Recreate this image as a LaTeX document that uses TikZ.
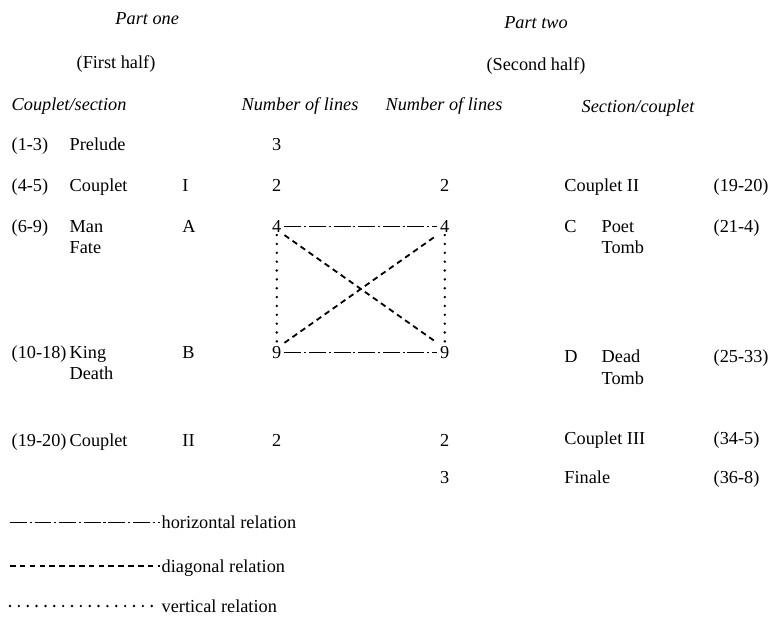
\documentclass[tikz,border=0pt]{standalone}
\usepackage{fontspec}
\setmainfont{Liberation Serif}
\usepackage{tikz}

\tikzset{
  txt/.style={anchor=base west, inner sep=1pt, font=\fontsize{13}{15.5}\selectfont},
  twoline/.style={anchor=north west, align=left, inner sep=1pt, font=\fontsize{13}{15.5}\selectfont},
  num/.style={anchor=base, inner sep=2pt, font=\fontsize{13}{15.5}\selectfont},
  head/.style={anchor=base, inner sep=1pt, font=\fontsize{13}{15.5}\selectfont\itshape},
  horizrel/.style={line width=0.5pt, dash pattern=on 12pt off 2pt on 1.5pt off 2pt},
  diagrel/.style={line width=1.3pt, dash pattern=on 4pt off 3pt},
  vertrel/.style={line width=1.9pt, line cap=round, dash pattern=on 0pt off 6.3pt}
}

\begin{document}
\begin{tikzpicture}
  \useasboundingbox (0,0) rectangle (19.4,-15.55);

  % headings
  \node[head] (p1) at (3.68,-0.6) {Part one};
  \node[num] (h1) at (2.9,-1.7) {(First half)};
  \node[head] (p2) at (13.4,-0.7) {Part two};
  \node[num] (h2) at (13.4,-1.75) {(Second half)};
  \node[head, anchor=base west] (cs) at (0.25,-2.75) {Couplet/section};
  \node[head] (nl1) at (7.5,-2.75) {Number of lines};
  \node[head] (nl2) at (11.1,-2.75) {Number of lines};
  \node[head] (sc) at (15.95,-2.8) {Section/couplet};

  % part one
  \node[txt] (r1) at (0.25,-3.75) {(1-3)};
  \node[txt] (s1) at (1.7,-3.75) {Prelude};
  \node[num] (n1) at (6.92,-3.75) {3};
  \node[txt] (r2) at (0.25,-4.78) {(4-5)};
  \node[txt] (s2) at (1.7,-4.78) {Couplet};
  \node[txt] (c2) at (4.52,-4.78) {I};
  \node[num] (n2) at (6.92,-4.78) {2};
  \node[txt] (r3) at (0.25,-5.8) {(6-9)};
  \node[twoline] (s3) at (1.7,-5.46) {Man\\Fate};
  \node[txt] (c3) at (4.52,-5.8) {A};
  \node[num] (nlA) at (6.92,-5.8) {4};
  \node[txt] (r4) at (0.25,-8.95) {(10-18)};
  \node[twoline] (s4) at (1.7,-8.61) {King\\Death};
  \node[txt] (c4) at (4.52,-8.95) {B};
  \node[num] (nlB) at (6.92,-8.95) {9};
  \node[txt] (r5) at (0.25,-11.15) {(19-20)};
  \node[txt] (s5) at (1.7,-11.15) {Couplet};
  \node[txt] (c5) at (4.52,-11.15) {II};
  \node[num] (n5) at (6.92,-11.15) {2};

  % part two
  \node[num] (m2) at (11.12,-4.78) {2};
  \node[txt] (t2) at (14.07,-4.78) {Couplet II};
  \node[txt] (q2) at (17.8,-4.78) {(19-20)};
  \node[num] (nrA) at (11.12,-5.8) {4};
  \node[txt] (d3) at (14.07,-5.8) {C};
  \node[twoline] (t3) at (15.0,-5.46) {Poet\\Tomb};
  \node[txt] (q3) at (17.8,-5.8) {(21-4)};
  \node[num] (nrB) at (11.12,-8.95) {9};
  \node[txt] (d4) at (14.07,-9.05) {D};
  \node[twoline] (t4) at (15.0,-8.71) {Dead\\Tomb};
  \node[txt] (q4) at (17.8,-9.05) {(25-33)};
  \node[num] (m5) at (11.12,-11.15) {2};
  \node[txt] (t5) at (14.07,-11.1) {Couplet III};
  \node[txt] (q5) at (17.8,-11.1) {(34-5)};
  \node[num] (m6) at (11.12,-12.08) {3};
  \node[txt] (t6) at (14.07,-12.08) {Finale};
  \node[txt] (q6) at (17.8,-12.08) {(36-8)};

  % relations
  \draw[horizrel] (nlA.east) -- (nrA.west);
  \draw[horizrel] (nlB.east) -- (nrB.west);
  \draw[vertrel] (nlA.south) -- (nlB.north);
  \draw[vertrel] (nrA.south) -- (nrB.north);
  \draw[diagrel] (nlA.south east) -- (nrB.north west);
  \draw[diagrel] (nlB.north east) -- (nrA.south west);

  % legend
  \node[txt] (lh) at (4.0,-13.22) {horizontal relation};
  \node[txt] (ld) at (4.0,-14.32) {diagonal relation};
  \node[txt] (lv) at (4.0,-15.32) {vertical relation};
  \coordinate (hl) at (0.25,-13.05);
  \coordinate (dl) at (0.25,-14.15);
  \coordinate (vl) at (0.25,-15.15);
  \draw[horizrel] (hl) -- (hl -| lh.west);
  \draw[diagrel] (dl) -- (dl -| ld.west);
  \draw[vertrel] (vl) -- (vl -| lv.west);
\end{tikzpicture}
\end{document}
